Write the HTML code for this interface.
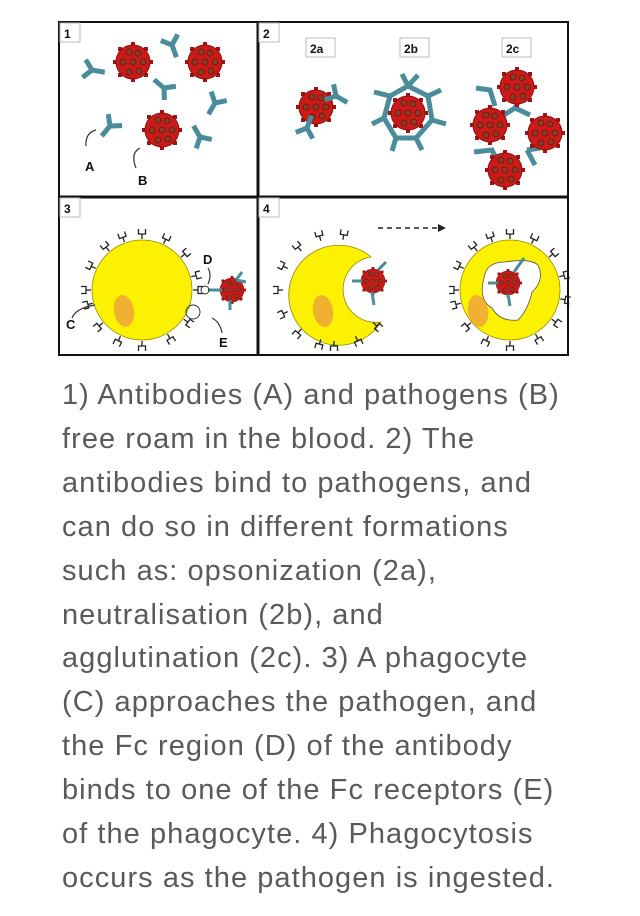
<!DOCTYPE html>
<html><head><meta charset="utf-8"><style>
html,body{margin:0;padding:0;background:#fff;width:640px;height:916px;overflow:hidden}
svg{position:absolute;left:0;top:0}
.t{position:absolute;left:62px;top:374px;width:600px;white-space:nowrap;font-family:"Liberation Sans",sans-serif;font-size:29px;letter-spacing:1.05px;line-height:43.9px;color:#5a5a5a}
</style></head><body>
<svg width="640" height="360" viewBox="0 0 640 360" font-family="Liberation Sans, sans-serif">
<defs>
<g id="v">
<g fill="#a01414"><rect x="-2" y="-20" width="4" height="4"/><rect x="-2" y="16" width="4" height="4"/><rect x="-20" y="-2" width="4" height="4"/><rect x="16" y="-2" width="4" height="4"/>
<rect x="11" y="-15" width="4" height="4"/><rect x="-15" y="-15" width="4" height="4"/><rect x="11" y="11" width="4" height="4"/><rect x="-15" y="11" width="4" height="4"/></g>
<circle r="17" fill="#cc1a18" stroke="#8a1010" stroke-width="1"/>
<g fill="#8e3a26" stroke="#5a1a10" stroke-width="0.8"><circle cx="-4" cy="-10" r="3"/><circle cx="5" cy="-9" r="3"/><circle cx="-10" cy="0" r="3"/><circle cx="0" cy="0" r="3"/><circle cx="10" cy="0" r="3"/><circle cx="-4" cy="10" r="3"/><circle cx="6" cy="9" r="3"/></g>
</g>
<g id="vs" transform="scale(0.7)"><use href="#v"/></g>
<path id="y" d="M0,0 L0,13 M0,0 L-9,-8 M0,0 L9,-8" stroke="#4a8c9a" stroke-width="5" fill="none"/>
<path id="r" d="M-3.5,-5 L-3.5,0 L3.5,0 L3.5,-5 M0,0 L0,5" stroke="#222" stroke-width="1.3" fill="none"/>
</defs>
<rect x="59" y="22" width="509" height="333" fill="#fff" stroke="#111" stroke-width="2"/>
<line x1="258" y1="22" x2="258" y2="355" stroke="#111" stroke-width="3"/>
<line x1="59" y1="197" x2="568" y2="197" stroke="#111" stroke-width="3"/>
<g font-weight="bold" font-size="12" fill="#111">
<rect x="60" y="23" width="20" height="19" fill="#fff" stroke="#bbb"/><text x="64" y="38">1</text>
<rect x="259" y="23" width="20" height="19" fill="#fff" stroke="#bbb"/><text x="263" y="38">2</text>
<rect x="60" y="198" width="20" height="19" fill="#fff" stroke="#bbb"/><text x="64" y="213">3</text>
<rect x="259" y="198" width="20" height="19" fill="#fff" stroke="#bbb"/><text x="263" y="213">4</text>
<rect x="306" y="38" width="29" height="19" fill="#fff" stroke="#bbb"/><text x="310" y="53">2a</text>
<rect x="400" y="38" width="29" height="19" fill="#fff" stroke="#bbb"/><text x="404" y="53">2b</text>
<rect x="502" y="38" width="29" height="19" fill="#fff" stroke="#bbb"/><text x="506" y="53">2c</text>
<text x="85" y="171" font-size="13">A</text><text x="138" y="185" font-size="13">B</text>
<text x="203" y="264" font-size="13">D</text><text x="66" y="329" font-size="13">C</text><text x="219" y="347" font-size="13">E</text>
</g>
<use href="#v" transform="translate(133,62)"/><use href="#v" transform="translate(205,62)"/><use href="#v" transform="translate(162,130)"/>
<use href="#y" transform="translate(92,70) rotate(-80)"/>
<use href="#y" transform="translate(172,45) rotate(-20)"/>
<use href="#y" transform="translate(164,88) rotate(130)"/>
<use href="#y" transform="translate(215,103) rotate(30)"/>
<use href="#y" transform="translate(110,126) rotate(40)"/>
<use href="#y" transform="translate(200,137) rotate(150)"/>
<path d="M96,130 Q85,133 86,146 M140,148 Q130,153 136,168" stroke="#333" stroke-width="1.2" fill="none"/>
<use href="#v" transform="translate(316,107)"/>
<use href="#y" transform="translate(336,96) rotate(-60)"/><use href="#y" transform="translate(307,128) rotate(200)"/>
<g stroke="#4a8c9a" stroke-width="5" fill="none"><polygon points="408,86 428,96 432,120 416,138 396,138 384,118 390,96"/>
<line x1="408" y1="86" x2="402" y2="74"/><line x1="408" y1="86" x2="418" y2="75"/><line x1="428" y1="96" x2="441" y2="90"/><line x1="432" y1="120" x2="446" y2="124"/><line x1="416" y1="138" x2="422" y2="150"/><line x1="396" y1="138" x2="392" y2="151"/><line x1="384" y1="118" x2="372" y2="124"/><line x1="390" y1="96" x2="374" y2="92"/>
<path d="M476,88 L490,90 L495,106 M496,120 L515,108 L520,98 M515,108 L530,115 M474,152 L492,150 L498,162 M527,150 L535,165 M527,150 L540,148"/></g>
<use href="#v" transform="translate(408,113)"/>
<use href="#v" transform="translate(517,87)"/><use href="#v" transform="translate(490,125)"/><use href="#v" transform="translate(545,133)"/><use href="#v" transform="translate(505,170)"/>
<circle cx="142" cy="290" r="50" fill="#fbf100" stroke="#998800" stroke-width="0.8"/>
<ellipse cx="124" cy="311" rx="10" ry="16" transform="rotate(-10 124 311)" fill="#f0b030"/>
<g>
<use href="#r" transform="rotate(0 142 290) translate(142 234)"/><use href="#r" transform="rotate(25 142 290) translate(142 234)"/><use href="#r" transform="rotate(50 142 290) translate(142 234)"/><use href="#r" transform="rotate(75 142 290) translate(142 234)"/><use href="#r" transform="rotate(90 142 290) translate(142 234)"/><use href="#r" transform="rotate(125 142 290) translate(142 234)"/><use href="#r" transform="rotate(150 142 290) translate(142 234)"/><use href="#r" transform="rotate(180 142 290) translate(142 234)"/><use href="#r" transform="rotate(205 142 290) translate(142 234)"/><use href="#r" transform="rotate(230 142 290) translate(142 234)"/><use href="#r" transform="rotate(255 142 290) translate(142 234)"/><use href="#r" transform="rotate(270 142 290) translate(142 234)"/><use href="#r" transform="rotate(295 142 290) translate(142 234)"/><use href="#r" transform="rotate(320 142 290) translate(142 234)"/><use href="#r" transform="rotate(340 142 290) translate(142 234)"/>
</g>
<use href="#vs" transform="translate(232,290)"/>
<g stroke="#4a8c9a" stroke-width="3" fill="none"><path d="M208,290 L222,290 M236,280 L242,272 M236,280 L246,282 M230,300 L230,310"/></g>
<circle cx="205" cy="290" r="4" fill="none" stroke="#333" stroke-width="1"/>
<circle cx="193" cy="312" r="7" fill="none" stroke="#333" stroke-width="1"/>
<path d="M208,268 Q212,275 208,284 M72,318 Q76,308 95,305 M212,318 Q220,322 222,333" stroke="#333" stroke-width="1.2" fill="none"/>
<line x1="378" y1="228" x2="438" y2="228" stroke="#222" stroke-width="1.5" stroke-dasharray="5,4"/>
<polygon points="438,224 446,228 438,232" fill="#222"/>
<path d="M371,257 A50,50 0 1 0 381,322 A32,32 0 1 1 371,257 Z" fill="#fbf100" stroke="#998800" stroke-width="0.8"/>
<ellipse cx="323" cy="311" rx="10" ry="16" transform="rotate(-10 323 311)" fill="#f0b030"/>
<g>
<use href="#r" transform="rotate(-15 334 290) translate(334 234)"/><use href="#r" transform="rotate(-40 334 290) translate(334 234)"/><use href="#r" transform="rotate(-65 334 290) translate(334 234)"/><use href="#r" transform="rotate(-90 334 290) translate(334 234)"/><use href="#r" transform="rotate(-115 334 290) translate(334 234)"/><use href="#r" transform="rotate(-140 334 290) translate(334 234)"/><use href="#r" transform="rotate(-165 334 290) translate(334 234)"/><use href="#r" transform="rotate(180 334 290) translate(334 234)"/><use href="#r" transform="rotate(155 334 290) translate(334 234)"/><use href="#r" transform="rotate(130 334 290) translate(334 234)"/><use href="#r" transform="rotate(10 334 290) translate(334 234)"/>
</g>
<use href="#vs" transform="translate(373,281)"/>
<g stroke="#4a8c9a" stroke-width="3" fill="none"><path d="M352,281 L362,281 M378,270 L386,262 M372,292 L374,305"/></g>
<circle cx="510" cy="290" r="50" fill="#fbf100" stroke="#998800" stroke-width="0.8"/>
<path d="M484,278 Q486,262 505,262 Q530,258 538,265 Q545,280 532,292 Q528,310 518,320 Q500,322 492,308 Q478,300 484,278Z" fill="#fff" stroke="#555" stroke-width="0.8"/>
<ellipse cx="478" cy="311" rx="10" ry="16" transform="rotate(-10 478 311)" fill="#f0b030"/>
<g>
<use href="#r" transform="rotate(0 510 290) translate(510 234)"/><use href="#r" transform="rotate(25 510 290) translate(510 234)"/><use href="#r" transform="rotate(50 510 290) translate(510 234)"/><use href="#r" transform="rotate(75 510 290) translate(510 234)"/><use href="#r" transform="rotate(100 510 290) translate(510 234)"/><use href="#r" transform="rotate(125 510 290) translate(510 234)"/><use href="#r" transform="rotate(150 510 290) translate(510 234)"/><use href="#r" transform="rotate(180 510 290) translate(510 234)"/><use href="#r" transform="rotate(205 510 290) translate(510 234)"/><use href="#r" transform="rotate(230 510 290) translate(510 234)"/><use href="#r" transform="rotate(255 510 290) translate(510 234)"/><use href="#r" transform="rotate(270 510 290) translate(510 234)"/><use href="#r" transform="rotate(295 510 290) translate(510 234)"/><use href="#r" transform="rotate(320 510 290) translate(510 234)"/><use href="#r" transform="rotate(340 510 290) translate(510 234)"/>
</g>
<use href="#vs" transform="translate(508,283)"/>
<g stroke="#4a8c9a" stroke-width="3" fill="none"><path d="M488,283 L498,283 M514,272 L524,258 M508,294 L510,306"/></g>
</svg>
<div class="t">1) Antibodies (A) and pathogens (B)<br>free roam in the blood. 2) The<br>antibodies bind to pathogens, and<br>can do so in different formations<br>such as: opsonization (2a),<br>neutralisation (2b), and<br>agglutination (2c). 3) A phagocyte<br>(C) approaches the pathogen, and<br>the Fc region (D) of the antibody<br>binds to one of the Fc receptors (E)<br>of the phagocyte. 4) Phagocytosis<br>occurs as the pathogen is ingested.</div>
</body></html>
